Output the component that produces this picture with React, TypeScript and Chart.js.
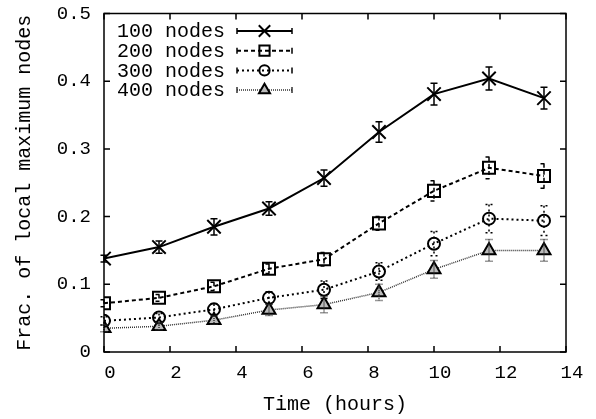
import React, { useEffect, useRef } from "react";
import { Chart, registerables } from "chart.js";
import { drawPoint } from "chart.js/helpers";

Chart.register(...registerables);

const hours = [0, 1.667, 3.333, 5, 6.667, 8.333, 10, 11.667, 13.333];
const labels = ["100 nodes", "200 nodes", "300 nodes", "400 nodes"];
const n100 = [0.138, 0.155, 0.185, 0.212, 0.257, 0.325, 0.381, 0.404, 0.375];
const e100 = [0.005, 0.009, 0.012, 0.010, 0.012, 0.015, 0.016, 0.017, 0.016];
const n200 = [0.072, 0.080, 0.097, 0.123, 0.137, 0.190, 0.238, 0.272, 0.260];
const e200 = [0.005, 0.005, 0.006, 0.007, 0.010, 0.010, 0.015, 0.016, 0.018];
const n300 = [0.046, 0.051, 0.063, 0.080, 0.092, 0.119, 0.160, 0.197, 0.194];
const e300 = [0.006, 0.006, 0.008, 0.009, 0.013, 0.013, 0.018, 0.021, 0.022];
const n400 = [0.035, 0.038, 0.047, 0.062, 0.070, 0.088, 0.122, 0.150, 0.150];
const e400 = [0.005, 0.005, 0.006, 0.008, 0.012, 0.012, 0.013, 0.016, 0.016];

const FONT = "'Liberation Mono', 'DejaVu Sans Mono', monospace";

const styles = [
  { dash: [], width: 2, color: "#000", point: "crossRot", radius: 9.5, fill: "rgba(0,0,0,0)" },
  { dash: [4, 3], width: 2, color: "#000", point: "rect", radius: 8.5, fill: "rgba(0,0,0,0)" },
  { dash: [2, 3], width: 2, color: "#000", point: "circle", radius: 6, fill: "rgba(0,0,0,0)" },
  { dash: [1, 1], width: 1.5, color: "#333", point: "triangle", radius: 7.5, fill: "#bbb" },
];

const values = [n100, n200, n300, n400];
const errors = [e100, e200, e300, e400];

const errorBarPlugin = {
  id: "errorBars",
  afterDatasetsDraw(chart: any) {
    const ctx = chart.ctx;
    const ys = chart.scales.y;
    chart.data.datasets.forEach((ds: any, di: number) => {
      const meta = chart.getDatasetMeta(di);
      const st = styles[di];
      ctx.save();
      ctx.strokeStyle = st.color;
      ctx.lineWidth = 1.5;
      ctx.setLineDash(st.dash);
      meta.data.forEach((pt: any, i: number) => {
        const v = values[di][i];
        const e = errors[di][i];
        const x = pt.x;
        const yt = ys.getPixelForValue(v + e);
        const yb = ys.getPixelForValue(v - e);
        ctx.beginPath();
        ctx.moveTo(x, yt);
        ctx.lineTo(x, yb);
        ctx.moveTo(x - 3.5, yt);
        ctx.lineTo(x + 3.5, yt);
        ctx.moveTo(x - 3.5, yb);
        ctx.lineTo(x + 3.5, yb);
        ctx.stroke();
      });
      ctx.restore();
    });
  },
};

const framePlugin = {
  id: "frame",
  afterDraw(chart: any) {
    const ctx = chart.ctx;
    const a = chart.chartArea;
    const xs = chart.scales.x;
    const ys = chart.scales.y;
    ctx.save();
    ctx.strokeStyle = "#000";
    ctx.lineWidth = 1.5;
    ctx.setLineDash([]);
    ctx.strokeRect(a.left, a.top, a.right - a.left, a.bottom - a.top);
    ctx.beginPath();
    const tl = 6;
    xs.ticks.forEach((t: any) => {
      const px = xs.getPixelForValue(t.value);
      ctx.moveTo(px, a.bottom);
      ctx.lineTo(px, a.bottom - tl);
      ctx.moveTo(px, a.top);
      ctx.lineTo(px, a.top + tl);
    });
    ys.ticks.forEach((t: any) => {
      const py = ys.getPixelForValue(t.value);
      ctx.moveTo(a.left, py);
      ctx.lineTo(a.left + tl, py);
      ctx.moveTo(a.right, py);
      ctx.lineTo(a.right - tl, py);
    });
    ctx.stroke();

    // legend
    const tx = 117;
    const y0 = 31;
    const dy = 19.7;
    const lx0 = 237;
    const lx1 = 292;
    ctx.font = `20px ${FONT}`;
    ctx.textBaseline = "middle";
    ctx.textAlign = "left";
    labels.forEach((lab, i) => {
      const st = styles[i];
      const y = y0 + i * dy;
      ctx.fillStyle = "#000";
      ctx.fillText(lab, tx, y + 1);
      ctx.save();
      ctx.strokeStyle = st.color;
      ctx.lineWidth = st.width;
      ctx.setLineDash(st.dash);
      ctx.beginPath();
      ctx.moveTo(lx0, y);
      ctx.lineTo(lx1, y);
      ctx.stroke();
      ctx.setLineDash([]);
      ctx.lineWidth = 1.5;
      ctx.beginPath();
      ctx.moveTo(lx0, y - 3);
      ctx.lineTo(lx0, y + 3);
      ctx.moveTo(lx1, y - 3);
      ctx.lineTo(lx1, y + 3);
      ctx.stroke();
      ctx.strokeStyle = "#000";
      ctx.fillStyle = st.fill;
      ctx.lineWidth = 2;
      drawPoint(ctx, { pointStyle: st.point, radius: st.radius * 0.85, borderWidth: 2, rotation: 0 } as any, (lx0 + lx1) / 2, y);
      ctx.restore();
    });
    ctx.restore();
  },
};

export default function App() {
  const ref = useRef<HTMLCanvasElement | null>(null);
  useEffect(() => {
    document.body.style.margin = "0";
    const canvas = ref.current!;
    const chart = new Chart(canvas, {
      type: "line",
      data: {
        datasets: labels.map((lab, di) => ({
          label: lab,
          data: hours.map((h, i) => ({ x: h, y: values[di][i] })),
          borderColor: styles[di].color,
          borderWidth: styles[di].width,
          borderDash: styles[di].dash,
          pointStyle: styles[di].point as any,
          pointRadius: styles[di].radius,
          pointBorderWidth: 2,
          pointBorderColor: "#000",
          pointBackgroundColor: styles[di].fill,
          fill: false,
          tension: 0,
        })),
      },
      options: {
        animation: false,
        responsive: false,
        maintainAspectRatio: false,
        layout: { padding: { left: 0, top: 13.5, right: 30, bottom: 0 } },
        plugins: { legend: { display: false }, tooltip: { enabled: false } },
        scales: {
          x: {
            type: "linear",
            min: 0,
            max: 14,
            grid: { display: false, drawTicks: false },
            border: { display: false },
            ticks: {
              stepSize: 2,
              padding: 10,
              labelOffset: 6,
              color: "#000",
              font: { family: FONT, size: 19 },
              maxRotation: 0,
            },
            title: {
              display: true,
              text: "Time (hours)",
              color: "#000",
              font: { family: FONT, size: 20 },
              padding: { top: 0, bottom: 2 },
            },
            afterFit: (s: any) => {
              s.height = 67;
              s.paddingLeft = 0;
              s.paddingRight = 0;
            },
          },
          y: {
            type: "linear",
            min: 0,
            max: 0.5,
            grid: { display: false, drawTicks: false },
            border: { display: false },
            ticks: {
              stepSize: 0.1,
              padding: 13,
              color: "#000",
              font: { family: FONT, size: 19 },
              callback: (v: any) => (Math.round(v * 10) / 10).toString(),
            },
            title: {
              display: true,
              text: "Frac. of local maximum nodes",
              color: "#000",
              font: { family: FONT, size: 20 },
              padding: { top: 13, bottom: 0 },
            },
            afterFit: (s: any) => {
              s.width = 104;
              s.paddingTop = 0;
              s.paddingBottom = 0;
            },
          },
        },
      },
      plugins: [errorBarPlugin, framePlugin],
    });
    return () => chart.destroy();
  }, []);
  return (
    <div style={{ width: 596, height: 419, background: "#fff" }}>
      <canvas ref={ref} width={596} height={419} style={{ display: "block" }} />
    </div>
  );
}
